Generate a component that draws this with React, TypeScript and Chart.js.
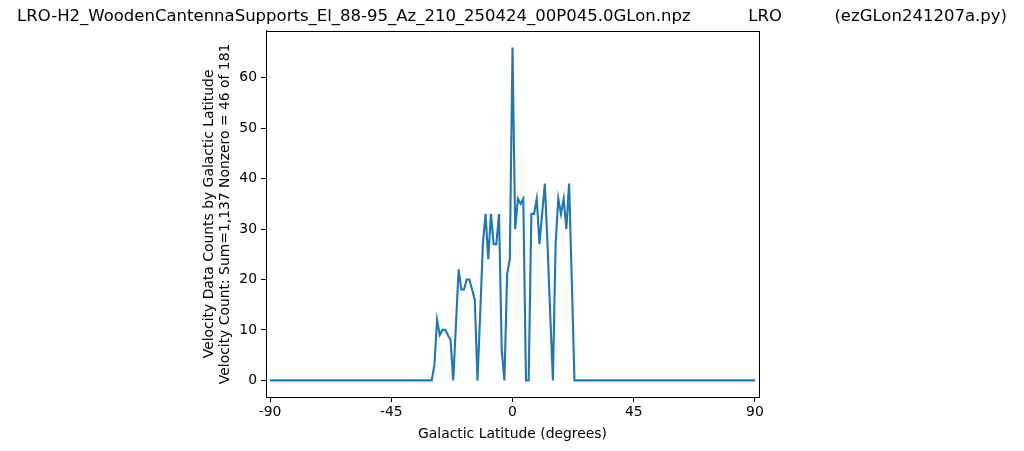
import React, { useEffect, useRef } from "react";
import { Chart, registerables } from "chart.js";

Chart.register(...registerables);

const latitudes = [
  -90, -30, -29, -28, -27, -26, -25, -24, -23, -22, -21, -20, -19, -18, -17, -16, -15, -14, -13, -12, -11,
  -10, -9, -8, -7, -6, -5, -4, -3, -2, -1, 0, 1, 2, 3, 4, 5, 6, 7, 8, 9, 10, 11, 12, 13, 14, 15, 16, 17,
  18, 19, 20, 21, 22, 23, 90,
];
const counts = [
  0, 0, 3, 12, 9, 10, 10, 9, 8, 0, 11, 22, 18, 18, 20, 20, 18, 16, 0, 13, 27,
  33, 24, 33, 27, 27, 33, 6, 0, 21, 24, 66, 30, 36, 35, 36, 0, 0, 33, 33, 36, 27, 33, 39, 27, 13, 0, 27, 36,
  33, 36, 30, 39, 20, 0, 0,
];
const xTicks = [-90, -45, 0, 45, 90];
const yTicks = [0, 10, 20, 30, 40, 50, 60];

const titleText =
  "LRO-H2_WoodenCantennaSupports_El_88-95_Az_210_250424_00P045.0GLon.npz           LRO          (ezGLon241207a.py)";
const xTitle = "Galactic Latitude (degrees)";
const yTitle = [
  "Velocity Data Counts by Galactic Latitude",
  "Velocity Count: Sum=1,137 Nonzero = 46 of 181",
];

const FONT = "'DejaVu Sans', sans-serif";

const boxPlugin = {
  id: "boxPlugin",
  afterDraw(chart: any) {
    const { ctx, chartArea } = chart;
    ctx.save();
    ctx.strokeStyle = "#000";
    ctx.lineWidth = 1;
    ctx.strokeRect(
      Math.round(chartArea.left) + 0.5,
      Math.round(chartArea.top) + 0.5,
      Math.round(chartArea.right - chartArea.left),
      Math.round(chartArea.bottom - chartArea.top)
    );
    ctx.restore();
  },
};

export default function App() {
  const ref = useRef<HTMLCanvasElement>(null);
  useEffect(() => {
    if (!ref.current) return;
    const chart = new Chart(ref.current, {
      type: "line",
      data: {
        datasets: [
          {
            data: latitudes.map((x, i) => ({ x, y: counts[i] })),
            borderColor: "#1f77b4",
            borderWidth: 2.1,
            pointRadius: 0,
            tension: 0,
            fill: false,
          },
        ],
      },
      options: {
        animation: false,
        responsive: false,
        devicePixelRatio: 1,
        layout: { padding: 0 },
        plugins: {
          legend: { display: false },
          tooltip: { enabled: false },
          title: {
            display: true,
            text: titleText,
            color: "#000",
            font: { family: FONT, size: 16.5, weight: "normal" },
            padding: { top: 7, bottom: 4 },
          },
        },
        scales: {
          x: {
            type: "linear",
            min: -91.5,
            max: 91.5,
            afterBuildTicks: (s: any) => {
              s.ticks = xTicks.map((v) => ({ value: v }));
            },
            afterFit: (s: any) => {
              s.height = 54;
            },
            grid: { drawOnChartArea: false, drawTicks: true, tickLength: 5, color: "#000" },
            border: { display: true, color: "#000" },
            ticks: {
              color: "#000",
              font: { family: FONT, size: 13.9 },
              padding: 2,
              maxRotation: 0,
              callback: (v: any) => String(v),
            },
            title: {
              display: true,
              text: xTitle,
              color: "#000",
              font: { family: FONT, size: 13.9 },
              padding: { top: 0, bottom: 8 },
            },
          },
          y: {
            type: "linear",
            min: -3.3,
            max: 69.3,
            afterBuildTicks: (s: any) => {
              s.ticks = yTicks.map((v) => ({ value: v }));
            },
            afterFit: (s: any) => {
              s.width = 266;
            },
            grid: { drawOnChartArea: false, drawTicks: true, tickLength: 5, color: "#000" },
            border: { display: true, color: "#000" },
            ticks: {
              color: "#000",
              font: { family: FONT, size: 13.9 },
              padding: 4,
              callback: (v: any) => String(v),
            },
            title: {
              display: true,
              text: yTitle,
              color: "#000",
              font: { family: FONT, size: 13.9, lineHeight: 1.15 },
              padding: { top: 201, bottom: 0 },
            },
          },
          y2: {
            type: "linear",
            position: "right",
            display: true,
            afterFit: (s: any) => {
              s.width = 265;
            },
            grid: { display: false, drawTicks: false },
            border: { display: false },
            ticks: { display: false },
          },
        },
      },
      plugins: [boxPlugin],
    } as any);
    return () => chart.destroy();
  }, []);
  return (
    <div style={{ position: "fixed", left: 0, top: 0, width: 1024, height: 451, background: "#fff" }}>
      <canvas ref={ref} width={1024} height={451} style={{ width: 1024, height: 451 }} />
    </div>
  );
}
